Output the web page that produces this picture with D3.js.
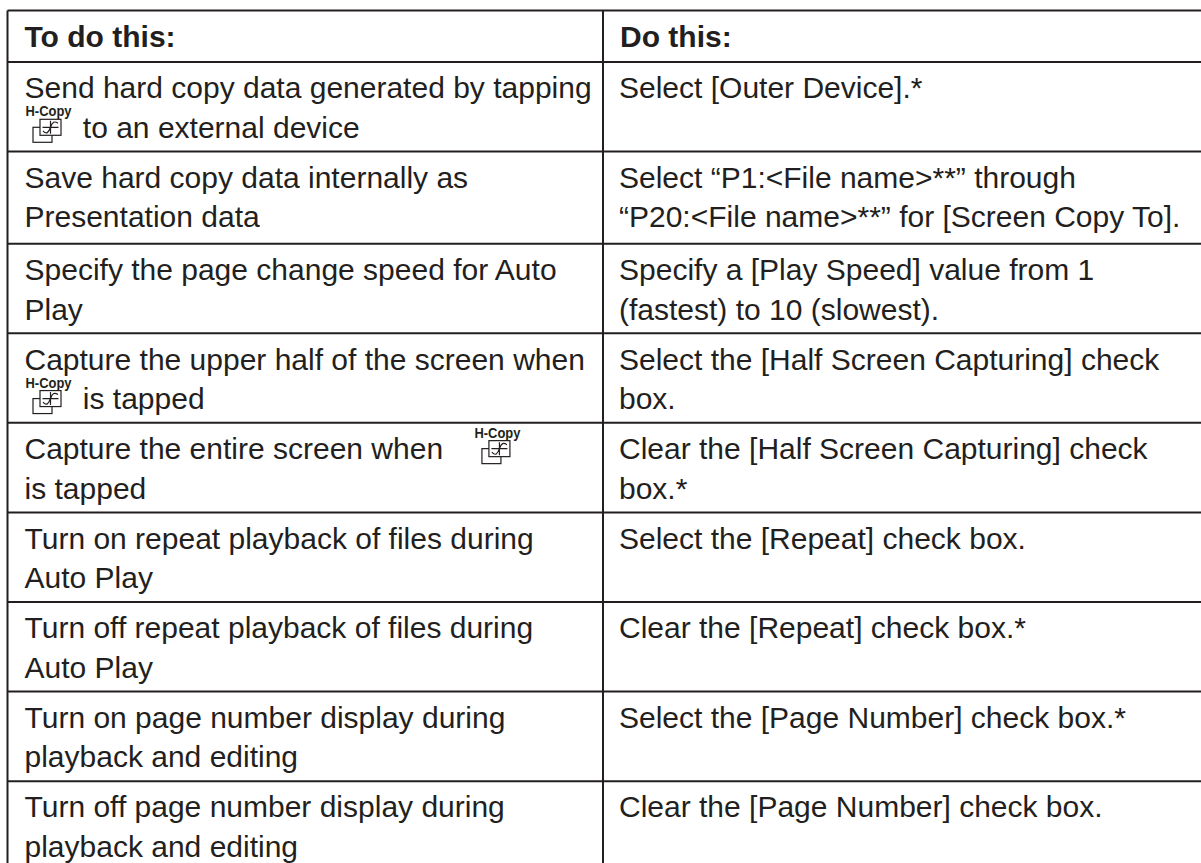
<!DOCTYPE html>
<html>
<head>
<meta charset="utf-8">
<script src="https://cdn.jsdelivr.net/npm/d3@7"></script>
<style>
  html, body { margin: 0; padding: 0; background: #fff; }
  svg { display: block; }
  text { font-family: "Liberation Sans", Arial, sans-serif; fill: #231f20; }
</style>
</head>
<body>
<div id="table"></div>
<script>
const headers = ["To do this:", "Do this:"];

// each cell is a list of lines, "@" marks where the H-Copy icon goes
const actions = [
  ["Send hard copy data generated by tapping", "@ to an external device"],
  ["Save hard copy data internally as", "Presentation data"],
  ["Specify the page change speed for Auto", "Play"],
  ["Capture the upper half of the screen when", "@ is tapped"],
  ["Capture the entire screen when @", "is tapped"],
  ["Turn on repeat playback of files during", "Auto Play"],
  ["Turn off repeat playback of files during", "Auto Play"],
  ["Turn on page number display during", "playback and editing"],
  ["Turn off page number display during", "playback and editing"]
];

const settings = [
  ["Select [Outer Device].*"],
  ["Select “P1:<File name>**” through", "“P20:<File name>**” for [Screen Copy To]."],
  ["Specify a [Play Speed] value from 1", "(fastest) to 10 (slowest)."],
  ["Select the [Half Screen Capturing] check", "box."],
  ["Clear the [Half Screen Capturing] check", "box.*"],
  ["Select the [Repeat] check box."],
  ["Clear the [Repeat] check box.*"],
  ["Select the [Page Number] check box.*"],
  ["Clear the [Page Number] check box."]
];

const w = 1201;
const h = 863;
const leftX = 7.5;
const dividerX = 603;
const topY = 10.5;
const headerBottom = 62;
const pad = 17;
const fontSize = 30;
const lineGap = 39.5;

const svg = d3.select("#table").append("svg")
  .attr("width", w)
  .attr("height", h);

// row 0 starts under the header, row 1 is a bit taller, the last row runs off the page
const rowScale = d3.scaleLinear()
  .domain([0, 1, 2, actions.length])
  .range([headerBottom, 151.5, 243.7, 870.7]);

const lineColor = "#231f20";

function hline(y) {
  svg.append("line")
    .attr("x1", leftX).attr("x2", w)
    .attr("y1", y).attr("y2", y)
    .attr("stroke", lineColor)
    .attr("stroke-width", 2);
}

hline(topY);
hline(headerBottom);
d3.range(1, actions.length).forEach((i) => hline(rowScale(i)));

[leftX, dividerX].forEach((x) => {
  svg.append("line")
    .attr("x1", x).attr("x2", x)
    .attr("y1", topY).attr("y2", h)
    .attr("stroke", lineColor)
    .attr("stroke-width", 2);
});

svg.selectAll("text.head")
  .data(headers)
  .enter()
  .append("text")
  .attr("class", "head")
  .attr("x", (d, i) => (i === 0 ? leftX : dividerX) + pad)
  .attr("y", 47)
  .attr("font-size", fontSize)
  .attr("font-weight", "bold")
  .text((d) => d);

function drawIcon(x, baseline) {
  const g = svg.append("g").attr("transform", "translate(" + x + "," + baseline + ")");
  g.append("text")
    .attr("x", 1).attr("y", -21.5)
    .attr("font-size", 14)
    .attr("font-weight", "bold")
    .attr("textLength", 46)
    .attr("lengthAdjust", "spacingAndGlyphs")
    .text("H-Copy");
  // back sheet, then the front sheet on top of it
  g.append("rect").attr("x", 8.5).attr("y", -10.5).attr("width", 19).attr("height", 15)
    .attr("fill", "#fff").attr("stroke", lineColor).attr("stroke-width", 1.2);
  g.append("rect").attr("x", 15.5).attr("y", -18.5).attr("width", 21).attr("height", 16)
    .attr("fill", "#fff").attr("stroke", lineColor).attr("stroke-width", 1.2);
  g.append("path").attr("d", "M26 -17V-4M18 -10.5H34M18.5 -7C22 -3 24 -5 26 -10.5C28 -16 30 -17 33.5 -14.5")
    .attr("fill", "none").attr("stroke", lineColor).attr("stroke-width", 1.2);
}

function drawCell(lines, x, row) {
  lines.forEach((line, j) => {
    const y = rowScale(row) + 36.3 + j * lineGap;
    const parts = line.split("@");
    const first = svg.append("text")
      .attr("x", x).attr("y", y)
      .attr("font-size", fontSize)
      .style("white-space", "pre")
      .text(parts[0]);
    if (parts.length > 1) {
      const iconX = x + first.node().getComputedTextLength() + (parts[0] ? 22 : 0);
      drawIcon(iconX, y);
      svg.append("text")
        .attr("x", iconX + 50).attr("y", y)
        .attr("font-size", fontSize)
        .style("white-space", "pre")
        .text(parts[1]);
    }
  });
}

actions.forEach((lines, i) => drawCell(lines, leftX + pad, i));
settings.forEach((lines, i) => drawCell(lines, dividerX + pad - 1, i));
</script>
</body>
</html>
